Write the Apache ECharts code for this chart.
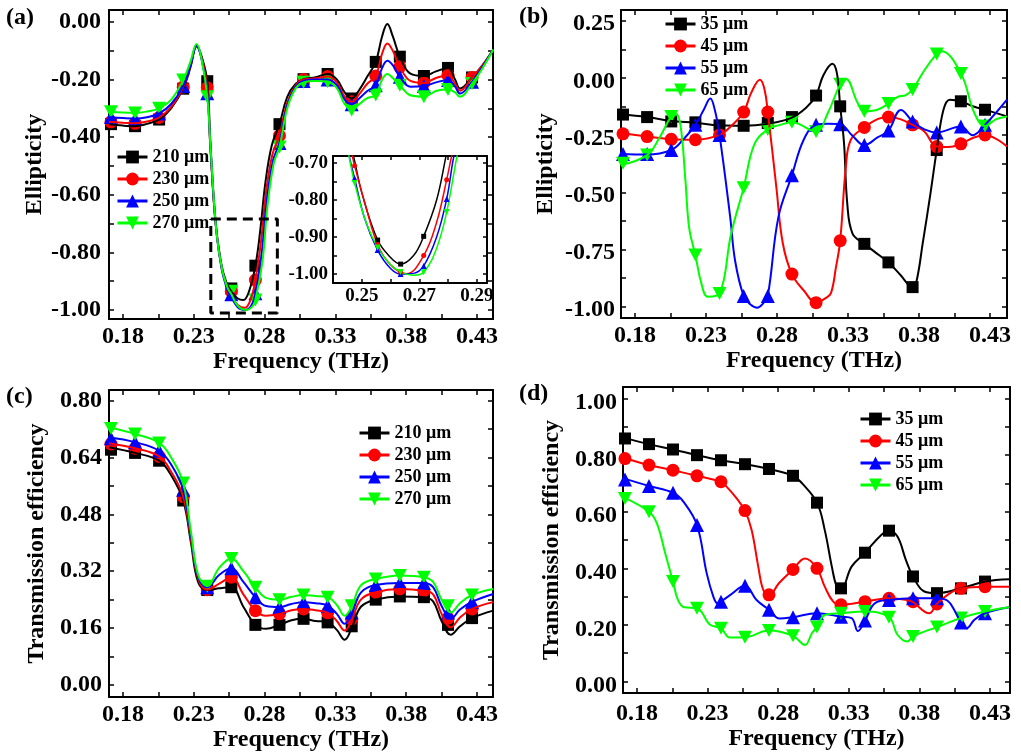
<!DOCTYPE html>
<html><head><meta charset="utf-8">
<script src="https://cdn.jsdelivr.net/npm/echarts@6/dist/echarts.min.js"></script>
<style>html,body{margin:0;padding:0;background:#fff}#c{width:1021px;height:754px}</style>
</head><body><div id="c"></div>
<script>
// ---------- shared ----------
const markerFreq = [0.1715,0.1885,0.2055,0.2225,0.2395,0.2565,0.2735,0.2905,0.3075,0.3245,0.3415,0.3585,0.3755,0.3925,0.4095,0.4265];
const insetMarkerFreq = [0.2475,0.2555,0.2635,0.2715,0.2795];
const freqLabels = [0.18,0.23,0.28,0.33,0.38,0.43];
const freqTicks = [0.18,0.205,0.23,0.255,0.28,0.305,0.33,0.355,0.38,0.405,0.43];
const namesA = ['210 μm','230 μm','250 μm','270 μm'];
const namesB = ['35 μm','45 μm','55 μm','65 μm'];

// ---------- panel (a): ellipticity vs period ----------
const aYLabels = [0,-0.2,-0.4,-0.6,-0.8,-1.0];
const aYTicks = [0,-0.1,-0.2,-0.3,-0.4,-0.5,-0.6,-0.7,-0.8,-0.9,-1.0];
const a210 = [[0.170,-0.355],[0.180,-0.360],[0.1885,-0.362],[0.197,-0.354],[0.2055,-0.339],[0.214,-0.30],[0.2225,-0.232],[0.2275,-0.16],[0.232,-0.083],[0.2355,-0.12],[0.2395,-0.206],[0.2415,-0.40],[0.245,-0.68],[0.249,-0.83],[0.253,-0.905],[0.2565,-0.935],[0.261,-0.960],[0.265,-0.965],[0.269,-0.935],[0.2735,-0.846],[0.277,-0.72],[0.2805,-0.56],[0.285,-0.43],[0.2905,-0.355],[0.296,-0.26],[0.302,-0.215],[0.3075,-0.199],[0.316,-0.192],[0.3245,-0.181],[0.331,-0.20],[0.3365,-0.245],[0.3415,-0.266],[0.347,-0.235],[0.3525,-0.19],[0.3585,-0.139],[0.363,-0.05],[0.3667,-0.008],[0.3705,-0.05],[0.3755,-0.121],[0.383,-0.18],[0.3925,-0.188],[0.401,-0.172],[0.4095,-0.160],[0.4145,-0.20],[0.418,-0.231],[0.4265,-0.193],[0.434,-0.15],[0.4415,-0.096]];
const a230 = [[0.170,-0.347],[0.180,-0.350],[0.1885,-0.352],[0.197,-0.346],[0.2055,-0.332],[0.214,-0.295],[0.2225,-0.226],[0.2275,-0.155],[0.232,-0.085],[0.2355,-0.125],[0.2395,-0.229],[0.2415,-0.42],[0.2455,-0.70],[0.2495,-0.85],[0.2535,-0.92],[0.2565,-0.95],[0.261,-0.982],[0.266,-0.992],[0.270,-0.965],[0.2735,-0.896],[0.2775,-0.76],[0.281,-0.59],[0.2855,-0.46],[0.2905,-0.395],[0.296,-0.28],[0.302,-0.22],[0.3075,-0.20],[0.316,-0.196],[0.3245,-0.19],[0.331,-0.21],[0.3365,-0.26],[0.3415,-0.277],[0.347,-0.25],[0.3525,-0.215],[0.3585,-0.188],[0.363,-0.11],[0.3667,-0.075],[0.3705,-0.10],[0.3755,-0.156],[0.383,-0.205],[0.3925,-0.212],[0.401,-0.195],[0.4095,-0.185],[0.4145,-0.215],[0.418,-0.239],[0.4265,-0.193],[0.434,-0.15],[0.4415,-0.096]];
const a250 = [[0.170,-0.330],[0.180,-0.334],[0.1885,-0.336],[0.197,-0.331],[0.2055,-0.318],[0.214,-0.285],[0.2225,-0.223],[0.2275,-0.155],[0.232,-0.085],[0.2355,-0.13],[0.2395,-0.248],[0.2418,-0.44],[0.2458,-0.72],[0.2498,-0.86],[0.2538,-0.93],[0.2565,-0.955],[0.261,-0.99],[0.2665,-1.0],[0.2705,-0.985],[0.2735,-0.942],[0.278,-0.80],[0.2815,-0.62],[0.286,-0.48],[0.2905,-0.42],[0.296,-0.29],[0.302,-0.225],[0.3075,-0.205],[0.316,-0.20],[0.3245,-0.20],[0.331,-0.22],[0.3365,-0.27],[0.3415,-0.286],[0.347,-0.265],[0.3525,-0.24],[0.3585,-0.22],[0.363,-0.16],[0.3667,-0.135],[0.3705,-0.15],[0.3755,-0.191],[0.383,-0.225],[0.3925,-0.223],[0.401,-0.21],[0.4095,-0.202],[0.4145,-0.225],[0.418,-0.249],[0.4265,-0.208],[0.434,-0.155],[0.4415,-0.096]];
const a270 = [[0.170,-0.312],[0.180,-0.315],[0.1885,-0.316],[0.197,-0.311],[0.2055,-0.300],[0.214,-0.27],[0.2225,-0.202],[0.2275,-0.14],[0.232,-0.077],[0.2355,-0.13],[0.2395,-0.26],[0.242,-0.45],[0.246,-0.73],[0.250,-0.86],[0.254,-0.925],[0.2565,-0.945],[0.261,-0.985],[0.267,-1.0],[0.271,-0.99],[0.2735,-0.965],[0.2785,-0.83],[0.282,-0.64],[0.2865,-0.49],[0.2905,-0.434],[0.296,-0.30],[0.302,-0.23],[0.3075,-0.21],[0.316,-0.205],[0.3245,-0.208],[0.331,-0.23],[0.3365,-0.285],[0.3415,-0.306],[0.347,-0.285],[0.3525,-0.265],[0.3585,-0.254],[0.363,-0.20],[0.3667,-0.181],[0.3705,-0.195],[0.3755,-0.22],[0.383,-0.255],[0.3925,-0.26],[0.401,-0.24],[0.4095,-0.235],[0.4145,-0.245],[0.418,-0.26],[0.4265,-0.214],[0.434,-0.16],[0.4415,-0.096]];
const a210M = [-0.355,-0.362,-0.339,-0.232,-0.206,-0.925,-0.846,-0.355,-0.199,-0.181,-0.266,-0.139,-0.121,-0.188,-0.160,-0.193];
const a230M = [-0.347,-0.352,-0.332,-0.226,-0.229,-0.935,-0.896,-0.395,-0.200,-0.190,-0.277,-0.188,-0.156,-0.212,-0.185,-0.193];
const a250M = [-0.330,-0.336,-0.318,-0.223,-0.248,-0.945,-0.942,-0.420,-0.205,-0.200,-0.286,-0.220,-0.191,-0.223,-0.202,-0.208];
const a270M = [-0.312,-0.316,-0.300,-0.202,-0.260,-0.935,-0.965,-0.434,-0.210,-0.208,-0.306,-0.254,-0.220,-0.260,-0.235,-0.214];
const zoomBox = [0.242,0.289,-1.010,-0.684]; // x0,x1,y0,y1

// inset of (a)
const insetXLabels = [0.25,0.27,0.29];
const insetXTicks = [0.25,0.26,0.27,0.28,0.29];
const insetYLabels = [-0.7,-0.8,-0.9,-1.0];
const insetYTicks = [-0.7,-0.75,-0.8,-0.85,-0.9,-0.95,-1.0];
const i210 = [[0.243,-0.56],[0.245,-0.62],[0.2471,-0.68],[0.250,-0.78],[0.2555,-0.908],[0.260,-0.955],[0.2635,-0.973],[0.268,-0.950],[0.2715,-0.898],[0.276,-0.80],[0.2793,-0.68],[0.282,-0.58]];
const i230 = [[0.243,-0.56],[0.2455,-0.64],[0.2475,-0.707],[0.2515,-0.82],[0.2555,-0.92],[0.260,-0.975],[0.2655,-0.999],[0.2715,-0.95],[0.276,-0.86],[0.2795,-0.745],[0.2811,-0.685],[0.283,-0.62]];
const i250 = [[0.243,-0.58],[0.245,-0.66],[0.2475,-0.741],[0.251,-0.85],[0.2555,-0.935],[0.260,-0.985],[0.2635,-1.0],[0.268,-0.998],[0.2715,-0.978],[0.276,-0.90],[0.2795,-0.797],[0.2819,-0.685],[0.284,-0.62]];
const i270 = [[0.243,-0.59],[0.2455,-0.68],[0.2475,-0.754],[0.2515,-0.86],[0.2555,-0.928],[0.260,-0.975],[0.2635,-0.994],[0.268,-1.003],[0.2715,-0.995],[0.276,-0.93],[0.2795,-0.832],[0.283,-0.685],[0.285,-0.62]];
const i210M = [null,-0.908,-0.973,-0.898,null];
const i230M = [-0.707,-0.920,-0.995,-0.950,-0.745];
const i250M = [-0.741,-0.935,-1.000,-0.978,-0.797];
const i270M = [-0.754,-0.928,-0.994,-0.995,-0.832];

// ---------- panel (b): ellipticity vs width ----------
const bYLabels = [0.25,0,-0.25,-0.5,-0.75,-1.0];
const bYTicks = [0.25,0.125,0,-0.125,-0.25,-0.375,-0.5,-0.625,-0.75,-0.875,-1.0];
const b35 = [[0.170,-0.16],[0.1885,-0.171],[0.2055,-0.188],[0.2225,-0.196],[0.2395,-0.207],[0.2565,-0.209],[0.2735,-0.20],[0.2905,-0.173],[0.3005,-0.13],[0.3075,-0.077],[0.3125,0.01],[0.319,0.062],[0.3222,0.02],[0.3245,-0.124],[0.3272,-0.285],[0.3295,-0.55],[0.3332,-0.68],[0.3415,-0.725],[0.3488,-0.76],[0.3585,-0.806],[0.3668,-0.86],[0.3755,-0.914],[0.3782,-0.89],[0.3827,-0.72],[0.3882,-0.50],[0.3925,-0.315],[0.3972,-0.14],[0.4017,-0.095],[0.4095,-0.102],[0.4185,-0.125],[0.4265,-0.139],[0.442,-0.168]];
const b45 = [[0.170,-0.241],[0.1885,-0.256],[0.2055,-0.268],[0.2225,-0.27],[0.2395,-0.249],[0.2477,-0.21],[0.2565,-0.149],[0.2618,-0.065],[0.268,-0.008],[0.2712,-0.05],[0.2735,-0.149],[0.2795,-0.476],[0.284,-0.72],[0.2905,-0.857],[0.299,-0.93],[0.3075,-0.982],[0.3142,-0.962],[0.318,-0.94],[0.3215,-0.828],[0.3245,-0.711],[0.3285,-0.388],[0.332,-0.27],[0.3415,-0.216],[0.3508,-0.18],[0.3585,-0.171],[0.3668,-0.18],[0.3755,-0.205],[0.3838,-0.234],[0.3925,-0.30],[0.4008,-0.302],[0.4095,-0.288],[0.4188,-0.26],[0.4265,-0.249],[0.442,-0.30]];
const b55 = [[0.170,-0.332],[0.1885,-0.335],[0.2055,-0.315],[0.2138,-0.27],[0.2225,-0.205],[0.2283,-0.14],[0.233,-0.09],[0.2362,-0.14],[0.2395,-0.249],[0.247,-0.607],[0.2505,-0.80],[0.2565,-0.953],[0.2613,-0.99],[0.266,-1.004],[0.2702,-0.985],[0.2735,-0.953],[0.281,-0.607],[0.2905,-0.425],[0.2988,-0.27],[0.3075,-0.205],[0.3158,-0.20],[0.3245,-0.202],[0.3328,-0.25],[0.3415,-0.293],[0.3508,-0.26],[0.3585,-0.23],[0.3673,-0.14],[0.3755,-0.19],[0.3838,-0.225],[0.3925,-0.238],[0.4095,-0.212],[0.4178,-0.25],[0.4265,-0.205],[0.442,-0.095]];
const b65 = [[0.170,-0.38],[0.1885,-0.337],[0.1973,-0.26],[0.2055,-0.168],[0.209,-0.158],[0.2122,-0.215],[0.2155,-0.45],[0.2182,-0.66],[0.2225,-0.774],[0.2268,-0.90],[0.2313,-0.956],[0.2395,-0.942],[0.2477,-0.68],[0.2565,-0.48],[0.264,-0.29],[0.2735,-0.225],[0.2822,-0.205],[0.2905,-0.194],[0.3075,-0.234],[0.3158,-0.153],[0.3245,-0.028],[0.3285,-0.005],[0.3368,-0.109],[0.3415,-0.146],[0.3502,-0.14],[0.3585,-0.112],[0.365,-0.083],[0.3708,-0.075],[0.3755,-0.05],[0.3845,0.04],[0.3925,0.105],[0.3955,0.118],[0.4095,0.02],[0.419,-0.153],[0.4265,-0.21],[0.4345,-0.18],[0.442,-0.168]];
const b35M = [-0.16,-0.171,-0.19,-0.194,-0.207,-0.209,-0.197,-0.171,-0.077,-0.124,-0.725,-0.806,-0.914,-0.315,-0.102,-0.139];
const b45M = [-0.244,-0.256,-0.268,-0.27,-0.249,-0.149,-0.149,-0.857,-0.982,-0.711,-0.216,-0.171,-0.205,-0.30,-0.288,-0.249];
const b55M = [-0.332,-0.332,-0.315,-0.205,-0.249,-0.953,-0.953,-0.425,-0.205,-0.202,-0.293,-0.23,-0.19,-0.238,-0.212,-0.205];
const b65M = [-0.373,-0.337,-0.168,-0.774,-0.942,-0.48,-0.225,-0.194,-0.234,-0.028,-0.146,-0.112,-0.05,0.105,0.02,-0.21];

// ---------- panel (c): transmission vs period ----------
const cYLabels = [0,0.16,0.32,0.48,0.64,0.80];
const cYTicks = [0,0.08,0.16,0.24,0.32,0.40,0.48,0.56,0.64,0.72,0.80];
const c210 = [[0.170,0.669],[0.1885,0.653],[0.2055,0.631],[0.214,0.59],[0.2225,0.519],[0.228,0.40],[0.233,0.29],[0.2395,0.267],[0.248,0.272],[0.2565,0.275],[0.265,0.22],[0.2735,0.169],[0.281,0.158],[0.2905,0.169],[0.299,0.182],[0.3075,0.186],[0.316,0.18],[0.3245,0.176],[0.331,0.155],[0.3365,0.127],[0.3415,0.16],[0.348,0.22],[0.3585,0.240],[0.3755,0.249],[0.3925,0.247],[0.399,0.235],[0.405,0.18],[0.4115,0.141],[0.418,0.165],[0.4265,0.188],[0.4415,0.209]];
const c230 = [[0.170,0.680],[0.1885,0.666],[0.2055,0.643],[0.214,0.60],[0.2225,0.530],[0.228,0.41],[0.233,0.30],[0.2395,0.268],[0.248,0.285],[0.2565,0.303],[0.265,0.255],[0.2735,0.209],[0.281,0.195],[0.2905,0.200],[0.299,0.21],[0.3075,0.214],[0.316,0.21],[0.3245,0.203],[0.331,0.18],[0.3365,0.153],[0.3415,0.183],[0.348,0.24],[0.3585,0.261],[0.3755,0.270],[0.3925,0.265],[0.399,0.255],[0.405,0.20],[0.4115,0.162],[0.418,0.19],[0.4265,0.214],[0.4415,0.233]];
const c250 = [[0.170,0.697],[0.1885,0.683],[0.2055,0.659],[0.214,0.62],[0.2225,0.549],[0.228,0.42],[0.233,0.305],[0.2395,0.275],[0.248,0.31],[0.2565,0.328],[0.265,0.29],[0.2735,0.247],[0.281,0.222],[0.2905,0.219],[0.299,0.228],[0.3075,0.233],[0.316,0.23],[0.3245,0.223],[0.331,0.20],[0.3365,0.172],[0.3415,0.20],[0.348,0.26],[0.3585,0.281],[0.3755,0.287],[0.3925,0.287],[0.399,0.275],[0.405,0.222],[0.4115,0.186],[0.418,0.212],[0.4265,0.234],[0.4415,0.256]];
const c270 = [[0.170,0.725],[0.1885,0.706],[0.2055,0.681],[0.214,0.64],[0.2225,0.568],[0.228,0.43],[0.233,0.31],[0.2395,0.278],[0.248,0.33],[0.2565,0.356],[0.265,0.32],[0.2735,0.275],[0.281,0.245],[0.2905,0.240],[0.299,0.248],[0.3075,0.253],[0.316,0.25],[0.3245,0.247],[0.331,0.225],[0.3365,0.195],[0.3415,0.22],[0.348,0.28],[0.3585,0.298],[0.3755,0.308],[0.3925,0.303],[0.399,0.29],[0.405,0.24],[0.4115,0.204],[0.418,0.23],[0.4265,0.253],[0.4415,0.27]];
const c210M = [0.662,0.653,0.631,0.519,0.267,0.275,0.169,0.169,0.186,0.176,0.165,0.240,0.249,0.247,0.169,0.188];
const c230M = [0.678,0.666,0.643,0.530,0.268,0.303,0.209,0.200,0.214,0.203,0.186,0.261,0.270,0.265,0.188,0.214];
const c250M = [0.694,0.683,0.659,0.549,0.275,0.328,0.247,0.219,0.233,0.223,0.204,0.281,0.287,0.287,0.204,0.234];
const c270M = [0.722,0.706,0.681,0.568,0.278,0.356,0.275,0.240,0.253,0.247,0.223,0.298,0.308,0.303,0.223,0.253];

// ---------- panel (d): transmission vs width ----------
const dYLabels = [0,0.2,0.4,0.6,0.8,1.0];
const dYTicks = [0,0.1,0.2,0.3,0.4,0.5,0.6,0.7,0.8,0.9,1.0];
const d35 = [[0.1706,0.862],[0.1885,0.839],[0.2055,0.82],[0.2225,0.80],[0.2395,0.782],[0.2565,0.768],[0.2735,0.751],[0.2905,0.727],[0.297,0.70],[0.3075,0.632],[0.313,0.535],[0.318,0.406],[0.3215,0.335],[0.3245,0.326],[0.332,0.406],[0.3415,0.455],[0.353,0.518],[0.3585,0.533],[0.3645,0.512],[0.3705,0.429],[0.3755,0.371],[0.3835,0.318],[0.3925,0.312],[0.4095,0.329],[0.4265,0.353],[0.4437,0.361]];
const d45 = [[0.1706,0.791],[0.1885,0.765],[0.2055,0.747],[0.2225,0.727],[0.2395,0.706],[0.2436,0.688],[0.2506,0.647],[0.2565,0.604],[0.2612,0.535],[0.2659,0.406],[0.2694,0.324],[0.2735,0.303],[0.2805,0.347],[0.2905,0.396],[0.299,0.435],[0.3075,0.40],[0.313,0.335],[0.319,0.282],[0.3245,0.271],[0.3415,0.282],[0.3585,0.294],[0.3715,0.288],[0.3755,0.28],[0.387,0.241],[0.3925,0.275],[0.400,0.306],[0.4095,0.329],[0.4265,0.335],[0.4437,0.335]];
const d55 = [[0.1706,0.718],[0.1885,0.691],[0.2055,0.667],[0.213,0.635],[0.2225,0.553],[0.2294,0.382],[0.2341,0.30],[0.2371,0.276],[0.2395,0.282],[0.2459,0.305],[0.2565,0.338],[0.2647,0.288],[0.2735,0.253],[0.281,0.222],[0.2905,0.227],[0.3075,0.241],[0.3245,0.229],[0.332,0.224],[0.3365,0.178],[0.3415,0.215],[0.3485,0.276],[0.3585,0.288],[0.3755,0.294],[0.3925,0.294],[0.400,0.285],[0.405,0.25],[0.4095,0.208],[0.4135,0.188],[0.419,0.218],[0.4265,0.241],[0.4437,0.262]];
const d65 = [[0.1706,0.651],[0.1885,0.60],[0.1941,0.559],[0.200,0.453],[0.2055,0.353],[0.209,0.288],[0.2135,0.262],[0.2225,0.259],[0.2318,0.20],[0.2395,0.188],[0.2459,0.155],[0.2565,0.156],[0.2735,0.18],[0.2905,0.161],[0.299,0.129],[0.304,0.171],[0.3075,0.192],[0.313,0.235],[0.3245,0.241],[0.3415,0.247],[0.3585,0.227],[0.3645,0.165],[0.3715,0.141],[0.3755,0.159],[0.3835,0.176],[0.3925,0.192],[0.4095,0.224],[0.4265,0.247],[0.4437,0.262]];
const d35M = [0.859,0.839,0.820,0.800,0.782,0.768,0.751,0.727,0.632,0.329,0.455,0.533,0.371,0.312,0.329,0.353];
const d45M = [0.788,0.765,0.747,0.727,0.706,0.604,0.306,0.396,0.400,0.271,0.282,0.294,0.282,0.274,0.329,0.335];
const d55M = [0.714,0.691,0.667,0.553,0.282,0.338,0.253,0.227,0.241,0.229,0.215,0.288,0.294,0.294,0.208,0.241];
const d65M = [0.647,0.600,0.353,0.259,0.188,0.156,0.180,0.161,0.192,0.241,0.247,0.227,0.159,0.192,0.224,0.247];

// ---------- build ----------
const FONT = 'Liberation Serif';
const COLORS = ['#000000','#ff0000','#0000ff','#00ff00'];
const SYMBOLS = ['rect','circle','triangle','path://M0,0L10,0L5,9Z'];
const SIZES = [12,13,14,[14,13]];
const ISIZES = [5,5,6,[6,6]];
function fmt(v){ return (Math.abs(v) < 1e-9 ? 0 : v).toFixed(2); }

const grids = [], xAxis = [], yAxis = [], series = [];
function axisPair(dim, gi, range, labels, ticks, o){
  const pos = dim === 'x' ? ['bottom','top'] : ['left','right'];
  const shift = o.shift || 0;
  return pos.map((p,i) => ({
    type:'value', gridIndex:gi, position:p, min:range[0], max:range[1],
    axisLine:{show:true, onZero:false, lineStyle:{color:'#000', width:2}},
    axisTick:{show:true, inside:true, length:o.tickLen || 5, customValues:ticks, lineStyle:{color:'#000', width:1.5}},
    axisLabel:{show:i===0, customValues:labels,
      formatter: shift ? (v => '{s|' + fmt(v) + '}') : fmt,
      rich: shift ? {s:{fontFamily:FONT, fontWeight:'bold', fontSize:o.fs, color:'#000', padding:[shift*2,0,0,0]}} : undefined,
      fontFamily:FONT, fontWeight:'bold', fontSize:o.fs, color:'#000', margin:o.margin},
    splitLine:{show:false},
    name: i===0 ? (o.name || '') : '',
    nameLocation:'middle', nameGap:o.nameGap || 0,
    nameTextStyle:{fontFamily:FONT, fontWeight:'bold', fontSize:24, color:'#000'}
  }));
}
function addPanel(grid, xr, yr, xo, yo, yl, yt, xl, xt){
  grids.push(grid);
  const gi = grids.length - 1;
  xAxis.push(...axisPair('x', gi, xr, xl || freqLabels, xt || freqTicks, xo));
  yAxis.push(...axisPair('y', gi, yr, yl, yt, yo));
  return 2 * gi;
}
function addSeries(ai, names, curves, markers, mx, sizes, lw){
  names.forEach((nm, k) => {
    series.push({type:'line', name:nm, xAxisIndex:ai, yAxisIndex:ai, data:curves[k], smooth:0.4,
      showSymbol:false, symbol:SYMBOLS[k], symbolSize:sizes[k], lineStyle:{color:COLORS[k], width:lw},
      itemStyle:{color:COLORS[k]}, silent:true, clip:true});
    series.push({type:'scatter', name:nm, xAxisIndex:ai, yAxisIndex:ai,
      data: mx.map((x,i) => [x, markers[k][i]]).filter(d => d[1] != null),
      symbol:SYMBOLS[k], symbolSize:sizes[k], itemStyle:{color:COLORS[k], opacity:1}, silent:true});
  });
}

const ax = {fs:24, margin:6, nameGap:28, name:'Frequency (THz)'};
// (a)
const iA = addPanel({left:109, top:10, width:384, height:309}, [0.1701,0.4413], [-1.031,0.041],
  ax, {fs:24, margin:8, nameGap:62, name:'Ellipticity'}, aYLabels, aYTicks);
addSeries(iA, namesA, [a210,a230,a250,a270], [a210M,a230M,a250M,a270M], markerFreq, SIZES, 2);
series.push({type:'line', name:'zoom', xAxisIndex:iA, yAxisIndex:iA, symbol:'none', silent:true,
  data:[[zoomBox[0],zoomBox[3]],[zoomBox[1],zoomBox[3]],[zoomBox[1],zoomBox[2]],[zoomBox[0],zoomBox[2]],[zoomBox[0],zoomBox[3]]],
  lineStyle:{color:'#000', width:3, type:[10,6]}, z:5});
// (b)
const iB = addPanel({left:621, top:10, width:386, height:308}, [0.1701,0.442], [-1.049,0.297],
  Object.assign({}, ax, {nameGap:29}), {fs:24, margin:6, nameGap:63, name:'Ellipticity', shift:3.5}, bYLabels, bYTicks);
addSeries(iB, namesB, [b35,b45,b55,b65], [b35M,b45M,b55M,b65M], markerFreq, SIZES, 2);
// (c)
const iC = addPanel({left:109, top:390, width:384, height:307}, [0.1701,0.4413], [-0.034,0.830],
  ax, {fs:24, margin:7, nameGap:60, name:'Transmission efficiency'}, cYLabels, cYTicks);
addSeries(iC, namesA, [c210,c230,c250,c270], [c210M,c230M,c250M,c270M], markerFreq, SIZES, 2);
// (d)
const iD = addPanel({left:623, top:387, width:387, height:306}, [0.1701,0.4442], [-0.041,1.041],
  Object.assign({}, ax, {nameGap:33, margin:9}), {fs:24, margin:6, nameGap:59, name:'Transmission efficiency', shift:4.5}, dYLabels, dYTicks);
addSeries(iD, namesB, [d35,d45,d55,d65], [d35M,d45M,d55M,d65M], markerFreq, SIZES, 2);
// inset
const iI = addPanel({left:333, top:156, width:154, height:127, show:true, backgroundColor:'#fff', borderWidth:0, z:3},
  [0.240,0.2935], [-1.024,-0.681], {fs:19, margin:4, tickLen:4}, {fs:19, margin:5, tickLen:4},
  insetYLabels, insetYTicks, insetXLabels, insetXTicks);
addSeries(iI, namesA, [i210,i230,i250,i270], [i210M,i230M,i250M,i270M], insetMarkerFreq, ISIZES, 1.5);
xAxis.slice(-2).forEach(a => a.z = 4); yAxis.slice(-2).forEach(a => a.z = 4);
series.forEach(s => { if (s.xAxisIndex === iI) s.z = 4; });

function legend(left, top, names){
  return {orient:'vertical', left, top, padding:0, itemWidth:30, itemHeight:16, itemGap:4, selectedMode:false,
    data:names, lineStyle:{width:3}, textStyle:{fontFamily:FONT, fontWeight:'bold', fontSize:18, color:'#000', lineHeight:17}};
}
function ttl(text, left, top){
  return {text, left, top, padding:0, textStyle:{fontFamily:FONT, fontWeight:'bold', fontSize:24, color:'#000'}};
}

const chart = echarts.init(document.getElementById('c'), null, {renderer:'canvas'});
chart.setOption({
  animation:false, backgroundColor:'#fff',
  textStyle:{fontFamily:FONT, fontWeight:'bold', color:'#000'},
  title:[ttl('(a)',6,6), ttl('(b)',519,5), ttl('(c)',6,385), ttl('(d)',519,382)],
  legend:[legend(116,148,namesA), legend(664,15,namesB), legend(358,424,namesA), legend(859,410,namesB)],
  grid:grids, xAxis, yAxis, series
});
</script></body></html>
